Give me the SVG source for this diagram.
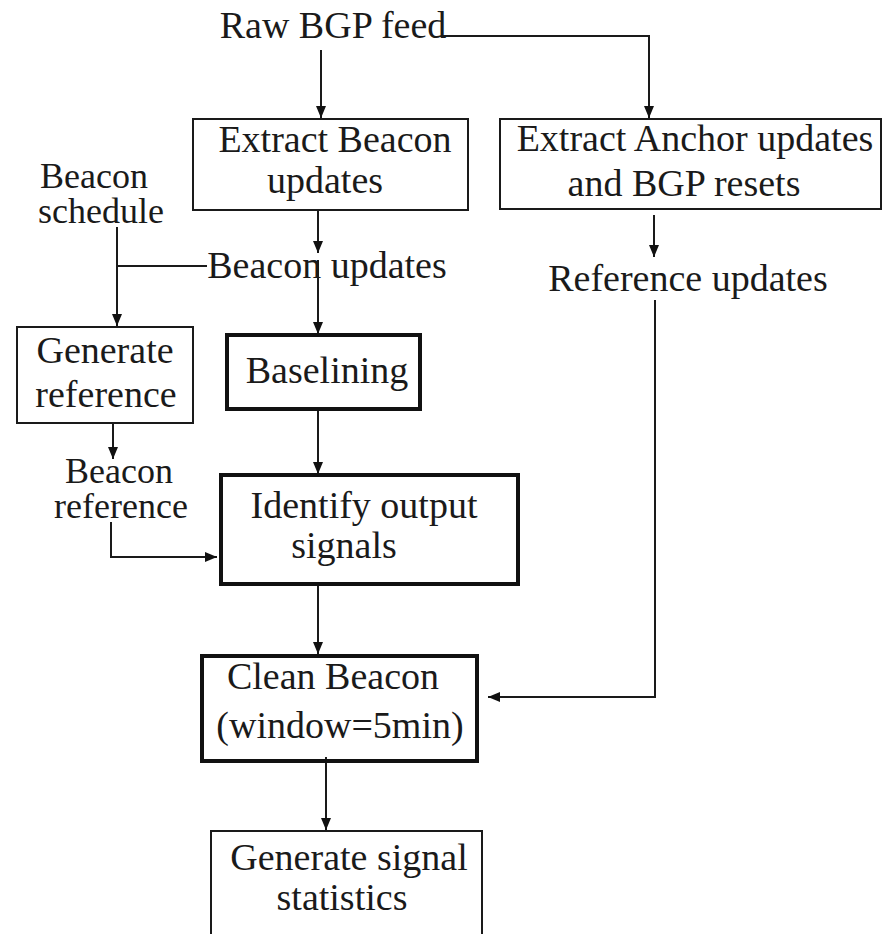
<svg xmlns="http://www.w3.org/2000/svg" width="884" height="934" viewBox="0 0 884 934">
<style>
text{font-family:"Liberation Serif","Times New Roman",serif;font-size:38px;fill:#1a1a1a;text-anchor:middle}
.s{font-size:36px}
.thin{fill:none;stroke:#1a1a1a;stroke-width:2}
.thick{fill:none;stroke:#111;stroke-width:4}
.c{fill:none;stroke:#1a1a1a;stroke-width:2}
</style>
<defs>
<marker id="ah" markerWidth="12" markerHeight="10" refX="12" refY="5" orient="auto" markerUnits="userSpaceOnUse">
<path d="M0,0 L12,5 L0,10 z" fill="#111"/>
</marker>
</defs>
<rect width="884" height="934" fill="#fff"/>
<g id="connectors">
<path class="c" d="M321,50 V118" marker-end="url(#ah)"/>
<path class="c" d="M443,36 H649 V118" marker-end="url(#ah)"/>
<path class="c" d="M318,210 V253" marker-end="url(#ah)"/>
<path class="c" d="M318,260 V334" marker-end="url(#ah)"/>
<path class="c" d="M117,227 V326" marker-end="url(#ah)"/>
<path class="c" d="M117,266 H207"/>
<path class="c" d="M654,215 V257" marker-end="url(#ah)"/>
<path class="c" d="M655,300 V697 H488" marker-end="url(#ah)"/>
<path class="c" d="M318,409 V474" marker-end="url(#ah)"/>
<path class="c" d="M113,423 V459" marker-end="url(#ah)"/>
<path class="c" d="M111,522 V557 H217" marker-end="url(#ah)"/>
<path class="c" d="M318,584 V654" marker-end="url(#ah)"/>
<path class="c" d="M326,757 V830" marker-end="url(#ah)"/>
</g>
<g id="raw-feed"><text x="333" y="38">Raw BGP feed</text></g>
<g id="extract-beacon">
<rect class="thin" x="193" y="119" width="275" height="91"/>
<text x="335" y="152">Extract Beacon</text>
<text x="325" y="193">updates</text>
</g>
<g id="extract-anchor">
<rect class="thin" x="500" y="119" width="381" height="90"/>
<text x="695" y="151">Extract Anchor updates</text>
<text x="684" y="196">and BGP resets</text>
</g>
<g id="beacon-schedule">
<text class="s" x="94" y="188">Beacon</text>
<text class="s" x="101" y="223">schedule</text>
</g>
<g id="beacon-updates"><text x="327" y="278">Beacon updates</text></g>
<g id="reference-updates"><text x="688" y="291">Reference updates</text></g>
<g id="generate-reference">
<rect class="thin" x="17" y="327" width="176" height="96"/>
<text x="105" y="363">Generate</text>
<text x="106" y="407">reference</text>
</g>
<g id="baselining">
<rect class="thick" x="227" y="335" width="193" height="74"/>
<text x="327" y="383">Baselining</text>
</g>
<g id="beacon-reference">
<text class="s" x="119" y="483">Beacon</text>
<text class="s" x="121" y="518">reference</text>
</g>
<g id="identify">
<rect class="thick" x="221" y="475" width="297" height="109"/>
<text x="364" y="518">Identify output</text>
<text x="344" y="558">signals</text>
</g>
<g id="clean-beacon">
<rect class="thick" x="202" y="656" width="275" height="105"/>
<text x="333" y="689">Clean Beacon</text>
<text x="340" y="738">(window=5min)</text>
</g>
<g id="generate-stats">
<rect class="thin" x="211" y="831" width="271" height="120"/>
<text x="349" y="870">Generate signal</text>
<text x="342" y="910">statistics</text>
</g>
</svg>
